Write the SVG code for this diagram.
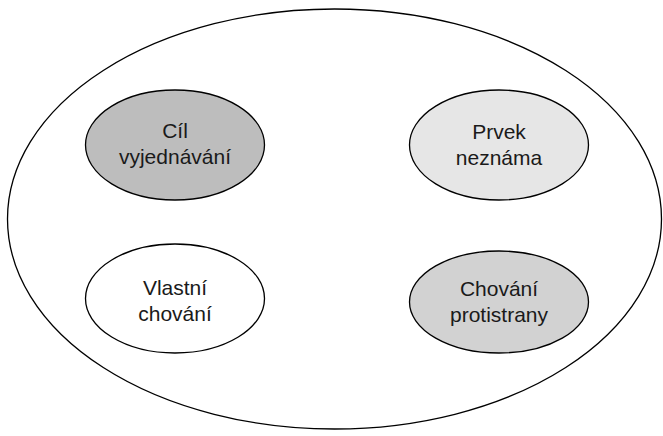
<svg xmlns="http://www.w3.org/2000/svg" width="663" height="436" viewBox="0 0 663 436">
<style>
.e{stroke:#000;stroke-width:1.3}
.t{font-family:"Liberation Sans",Arial,sans-serif;font-size:21px;fill:#1a1a1a;text-anchor:middle}
</style>
<rect width="663" height="436" fill="#fff"/>
<g id="outer"><ellipse class="e" cx="334.5" cy="219" rx="327" ry="210" fill="none"/></g>
<g id="cil"><ellipse class="e" cx="175" cy="145" rx="89.5" ry="55" fill="#bdbdbd"/>
<text class="t" x="175" y="138">Cíl</text><text class="t" x="175" y="164">vyjednávání</text></g>
<g id="prvek"><ellipse class="e" cx="499" cy="145" rx="89.5" ry="55" fill="#e6e6e6"/>
<text class="t" x="499" y="139">Prvek</text><text class="t" x="499" y="165">neznáma</text></g>
<g id="vlastni"><ellipse class="e" cx="175" cy="298.5" rx="89.5" ry="54.5" fill="#fff"/>
<text class="t" x="175" y="295">Vlastní</text><text class="t" x="175" y="321">chování</text></g>
<g id="chovani"><ellipse class="e" cx="499" cy="302" rx="89.5" ry="51" fill="#d2d2d2"/>
<text class="t" x="499" y="296">Chování</text><text class="t" x="499" y="322">protistrany</text></g>
<g id="connectors"></g>
</svg>
